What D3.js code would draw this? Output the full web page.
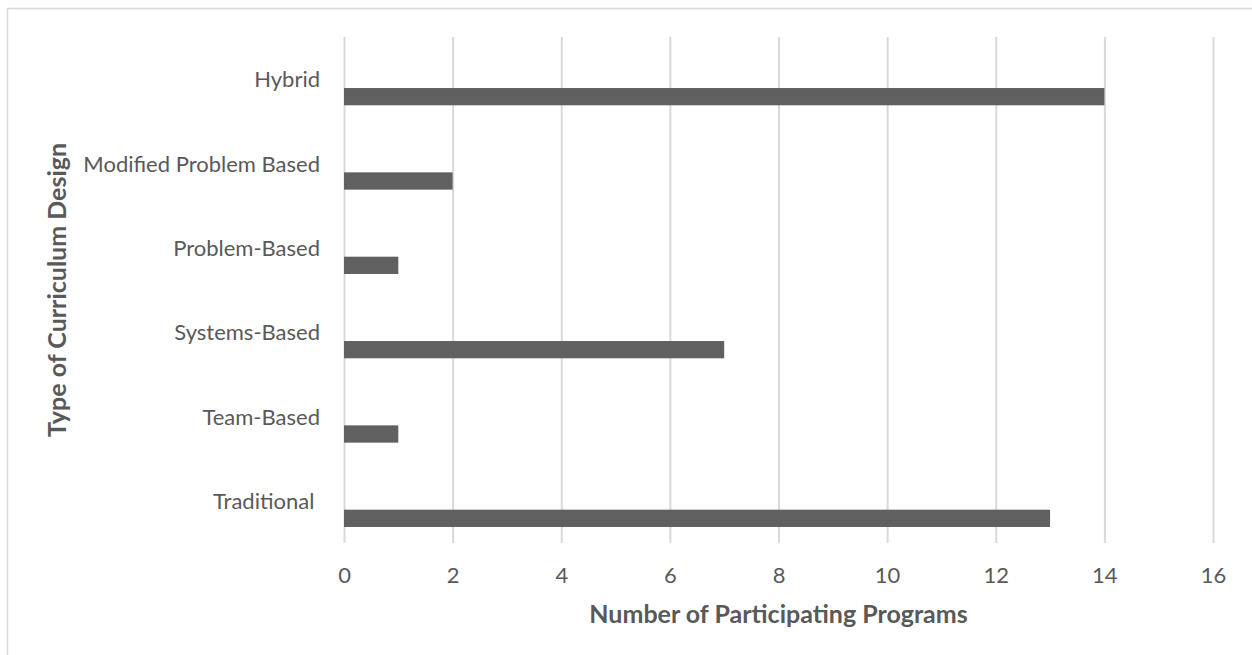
<!DOCTYPE html>
<html lang="en">
<head>
    <meta charset="UTF-8">
    <script src="https://cdnjs.cloudflare.com/ajax/libs/d3/7.8.5/d3.min.js"></script>
    <title>Type of Curriculum Design</title>
    <style>
        body { margin: 0; background: #fff; }
        svg { display: block; font-family: Lato, "Open Sans", sans-serif; }
        .label { fill: #595959; }
    </style>
</head>
<body>
    <svg width="1252" height="655"></svg>

    <script>
        const categories = ['Hybrid', 'Modified Problem Based', 'Problem-Based', 'Systems-Based', 'Team-Based', 'Traditional '];
        const programs = [14, 2, 1, 7, 1, 13];
        const xTicks = [0, 2, 4, 6, 8, 10, 12, 14, 16];

        const width = 1252;
        const height = 655;
        const margin = { top: 37, bottom: 112, left: 344, right: 39 };

        const svg = d3.select('svg');

        // outer chart frame (only top/left edges fall inside the picture)
        svg.append('rect')
            .attr('x', 7.5).attr('y', 8.5)
            .attr('width', width + 20).attr('height', height + 20)
            .attr('fill', 'none')
            .attr('stroke', '#d9d9d9')
            .attr('stroke-width', 1.5);

        const xScale = d3.scaleLinear()
            .domain([0, 16])
            .range([margin.left, width - margin.right]);

        const yScale = d3.scaleBand()
            .domain(categories)
            .range([margin.top, height - margin.bottom])
            .padding(0);

        const plotBottom = height - margin.bottom;
        const bw = yScale.bandwidth();

        const xAxis = d3.axisBottom(xScale)
            .tickValues(xTicks)
            .tickFormat(d3.format('d'))
            .tickSizeInner(-(plotBottom - margin.top))
            .tickSizeOuter(0)
            .tickPadding(24);

        const gx = svg.append('g')
            .attr('transform', `translate(0, ${plotBottom})`)
            .call(xAxis);
        gx.select('.domain').remove();
        gx.selectAll('.tick line')
            .attr('stroke', '#d9d9d9')
            .attr('stroke-width', 2);
        gx.selectAll('.tick text')
            .attr('class', 'label')
            .style('font-size', '22px')
            .style('font-family', 'Lato, sans-serif');

        svg.selectAll('rect.bar')
            .data(categories)
            .enter().append('rect')
            .attr('class', 'bar')
            .attr('x', xScale(0))
            .attr('y', d => yScale(d) + bw * 0.605)
            .attr('width', (d, i) => xScale(programs[i]) - xScale(0))
            .attr('height', bw * 0.205)
            .attr('fill', '#606060');

        svg.selectAll('text.cat')
            .data(categories)
            .enter().append('text')
            .attr('class', 'cat label')
            .attr('x', 320)
            .attr('y', d => yScale(d) + bw * 0.595)
            .attr('text-anchor', 'end')
            .style('white-space', 'pre')
            .style('font-size', '22px')
            .text(d => d);

        svg.append('text')
            .attr('class', 'label')
            .attr('x', (xScale(0) + xScale(16)) / 2)
            .attr('y', 623)
            .attr('text-anchor', 'middle')
            .style('font-size', '25px')
            .style('font-weight', 'bold')
            .text('Number of Participating Programs');

        svg.append('text')
            .attr('class', 'label')
            .attr('transform', `translate(66, ${(margin.top + plotBottom) / 2}) rotate(-90)`)
            .attr('text-anchor', 'middle')
            .style('font-size', '25px')
            .style('font-weight', 'bold')
            .text('Type of Curriculum Design');
    </script>
</body>
</html>
